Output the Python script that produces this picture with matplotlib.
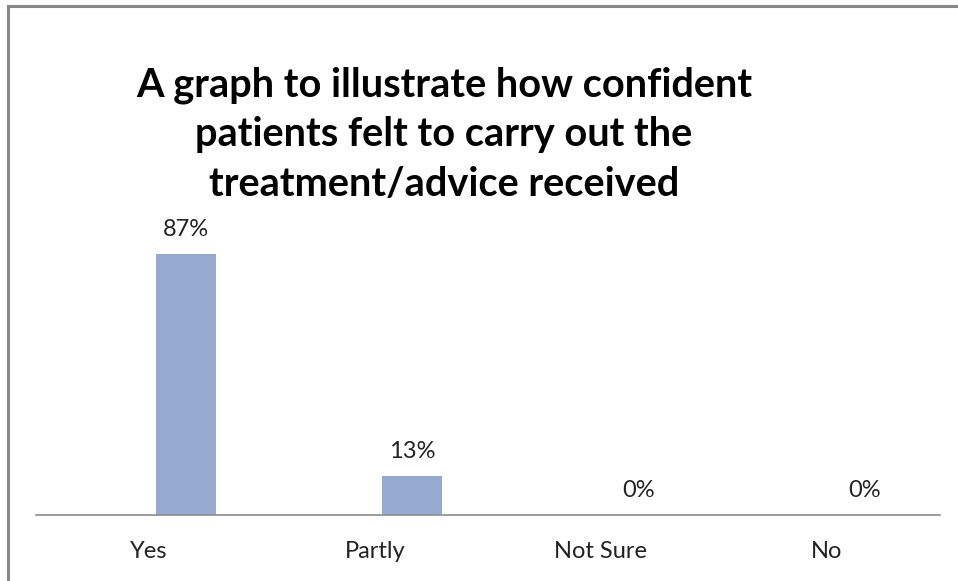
import matplotlib
matplotlib.use("Agg")
import matplotlib.pyplot as plt
from matplotlib.patches import Rectangle

categories = ["Yes", "Partly", "Not Sure", "No"]
percentages = [87, 13, 0, 0]
value_labels = ["87%", "13%", "0%", "0%"]
title = "A graph to illustrate how confident\npatients felt to carry out the\ntreatment/advice received"

W, H = 958, 581
fig = plt.figure(figsize=(W / 100, H / 100), dpi=100)
fig.patch.set_facecolor("white")

# chart frame (open to the right and bottom)
fig.add_artist(Rectangle((7.5 / W, -0.1), 1.2, 1.1 - 5.5 / H, transform=fig.transFigure,
                         fill=False, edgecolor="#888888", linewidth=2.2))

ax_left, ax_right, ax_base = 36, 940, 515
ax = fig.add_axes([ax_left / W, (H - ax_base) / H, (ax_right - ax_left) / W, 300 / H])
ax.set_xlim(-0.5, len(categories) - 0.5)
ax.set_ylim(0, 100)

offset = 0.164
width = 0.265
xs = [i + offset for i in range(len(categories))]
ax.bar(xs, percentages, width=width, color="#95a9d1", zorder=2)
for x, v, lab in zip(xs, percentages, value_labels):
    ax.annotate(lab, (x, v), xytext=(0, 10), textcoords="offset points",
                ha="center", va="bottom", fontsize=17, family="Lato", color="#222222")

for s in ["top", "right", "left"]:
    ax.spines[s].set_visible(False)
ax.spines["bottom"].set_color("#8c8c8c")
ax.spines["bottom"].set_linewidth(1.2)
ax.set_yticks([])
ax.set_xticks(range(len(categories)))
ax.set_xticklabels(categories, fontsize=17, family="Lato", color="#222222")
ax.tick_params(axis="x", length=0, pad=19)

fig.text(444 / W, 1 - 66 / H, title, ha="center", va="top", fontsize=28.6,
         fontweight="bold", family="Lato", linespacing=1.42, color="black")

fig.savefig("out.png", dpi=100, facecolor="white")
